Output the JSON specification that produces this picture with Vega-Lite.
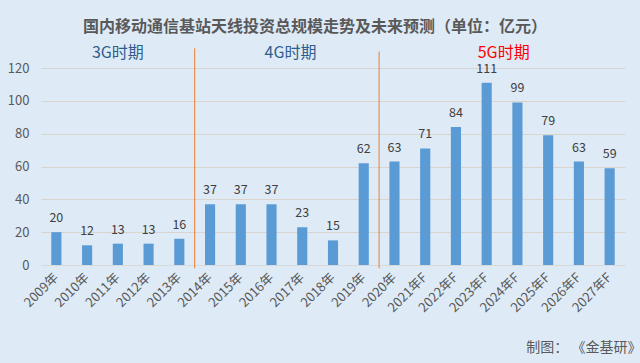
{
  "$schema": "https://vega.github.io/schema/vega-lite/v6.json",
  "width": 584,
  "height": 197,
  "autosize": {"type": "none"},
  "padding": {"left": 41, "top": 68, "right": 15, "bottom": 98},
  "background": "#DEEBF7",
  "config": {
    "font": "Noto Sans CJK SC",
    "view": {"stroke": null},
    "axis": {"labelFont": "Noto Sans CJK SC", "titleFont": "Noto Sans CJK SC"}
  },
  "title": {
    "text": "国内移动通信基站天线投资总规模走势及未来预测（单位：亿元）",
    "fontSize": 16,
    "fontWeight": "bold",
    "color": "#595959",
    "anchor": "middle",
    "frame": "group",
    "offset": 10,
    "dx": -18
  },
  "datasets": {
    "bars": [
      {"year": "2009年", "value": 20},
      {"year": "2010年", "value": 12},
      {"year": "2011年", "value": 13},
      {"year": "2012年", "value": 13},
      {"year": "2013年", "value": 16},
      {"year": "2014年", "value": 37},
      {"year": "2015年", "value": 37},
      {"year": "2016年", "value": 37},
      {"year": "2017年", "value": 23},
      {"year": "2018年", "value": 15},
      {"year": "2019年", "value": 62},
      {"year": "2020年", "value": 63},
      {"year": "2021年F", "value": 71},
      {"year": "2022年F", "value": 84},
      {"year": "2023年F", "value": 111},
      {"year": "2024年F", "value": 99},
      {"year": "2025年F", "value": 79},
      {"year": "2026年F", "value": 63},
      {"year": "2027年F", "value": 59}
    ],
    "periods": [
      {"year": "2011年", "label": "3G时期", "value": 129},
      {"year": "2016年", "label": "4G时期", "value": 129},
      {"year": "2023年F", "label": "5G时期", "value": 129}
    ],
    "dividers": [
      {"year": "2014年", "value": 132, "bottom": -2},
      {"year": "2020年", "value": 130, "bottom": -2}
    ]
  },
  "data": {"name": "bars"},
  "encoding": {
    "x": {
      "field": "year",
      "type": "nominal",
      "sort": null,
      "scale": {"paddingInner": 0, "paddingOuter": 0},
      "axis": {
        "title": "制图：  《金基研》",
        "titleFontSize": 14,
        "titleFontWeight": "normal",
        "titleColor": "#595959",
        "titleAlign": "right",
        "titleBaseline": "middle",
        "titleX": 600,
        "titleY": 82,
        "labelAngle": -45,
        "labelAlign": "right",
        "labelBaseline": "middle",
        "labelFontSize": 13,
        "labelColor": "#595959",
        "labelPadding": 10,
        "labelOverlap": false,
        "ticks": false,
        "domainColor": "#D9D9D9",
        "domainWidth": 1
      }
    },
    "y": {
      "field": "value",
      "type": "quantitative",
      "scale": {"domain": [0, 120]},
      "axis": {
        "title": null,
        "values": [0, 20, 40, 60, 80, 100, 120],
        "tickCount": 7,
        "labelOverlap": false,
        "labelFontSize": 13,
        "labelColor": "#595959",
        "labelPadding": 12,
        "domain": false,
        "ticks": false,
        "gridColor": "#D9D4CE",
        "gridWidth": 1
      }
    }
  },
  "layer": [
    {
      "mark": {"type": "bar", "color": "#5B9BD5", "width": {"band": 0.33}}
    },
    {
      "mark": {"type": "text", "fontSize": 12.5, "color": "#404040", "baseline": "alphabetic", "dy": -10},
      "encoding": {
        "text": {"field": "value", "type": "quantitative"}
      }
    },
    {
      "data": {"name": "dividers"},
      "mark": {"type": "rule", "color": "#ED7D31", "strokeWidth": 1},
      "encoding": {
        "x": {"field": "year", "type": "nominal", "bandPosition": 0},
        "y2": {"field": "bottom"}
      }
    },
    {
      "data": {"name": "periods"},
      "transform": [{"filter": "datum.label == '3G时期'"}],
      "mark": {"type": "text", "fontSize": 16, "color": "#2E5E8E", "baseline": "middle"},
      "encoding": {
        "text": {"field": "label"}
      }
    },
    {
      "data": {"name": "periods"},
      "transform": [{"filter": "datum.label == '4G时期'"}],
      "mark": {"type": "text", "fontSize": 16, "color": "#2E5E8E", "baseline": "middle", "dx": 19},
      "encoding": {
        "text": {"field": "label"}
      }
    },
    {
      "data": {"name": "periods"},
      "transform": [{"filter": "datum.label == '5G时期'"}],
      "mark": {"type": "text", "fontSize": 16, "color": "#FF0000", "baseline": "middle", "dx": 17},
      "encoding": {
        "text": {"field": "label"}
      }
    }
  ]
}
